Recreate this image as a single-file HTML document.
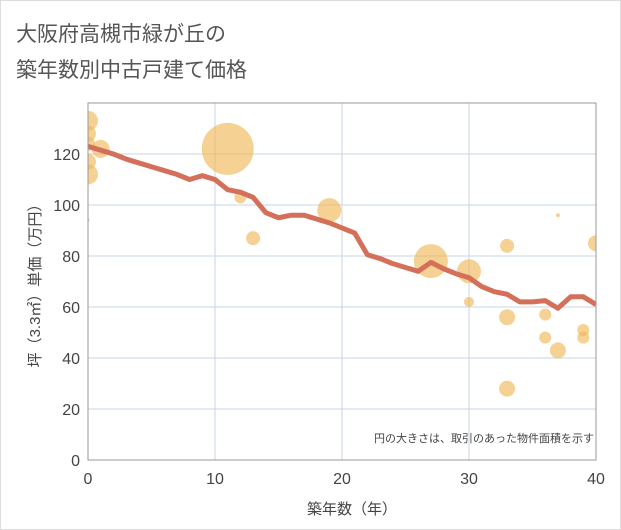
<!DOCTYPE html>
<html><head><meta charset="utf-8"><style>
body{margin:0;background:#fff;}
#wrap{position:relative;width:621px;height:530px;overflow:hidden;background:#fff;}
svg text{font-family:"Liberation Sans","Noto Sans CJK JP",sans-serif;}
</style></head><body>
<div id="wrap">
<svg id="c" width="621" height="530" xmlns="http://www.w3.org/2000/svg">
<defs><clipPath id="pc"><rect x="88" y="103" width="508" height="357"/></clipPath></defs>
<rect x="0.5" y="0.5" width="620" height="529" fill="#fff" stroke="#ddd"/>
<text x="16" y="41" font-size="21" fill="#555">大阪府高槻市緑が丘の</text>
<text x="16" y="77" font-size="21" fill="#555">築年数別中古戸建て価格</text>
<g id="grid"></g>
<g id="bubbles" clip-path="url(#pc)"></g>
<path id="line" fill="none" stroke="#d4705a" stroke-width="5" stroke-linejoin="round" clip-path="url(#pc)"/>
<g id="axes"></g>
<text x="594" y="442" font-size="11" fill="#444" text-anchor="end">円の大きさは、取引のあった物件面積を示す</text>
<text x="352" y="514" font-size="15" fill="#444" text-anchor="middle">築年数（年）</text>
<text transform="translate(40,282) rotate(-90)" font-size="15" fill="#444" text-anchor="middle">坪（3.3㎡）単価（万円）</text>
</svg></div>
<script>
const lineYears=[0,1,2,3,4,5,6,7,8,9,10,11,12,13,14,15,16,17,18,19,20,21,22,23,24,25,26,27,28,29,30,31,32,33,34,35,36,37,38,39,40];
const lineValues=[123,121.5,120,118,116.5,115,113.5,112,110,111.5,110,106,105,103,97,95,96,96,94.5,93,91,89,80.5,79,77,75.5,74,77.5,75,73,71.5,68,66,65,62,62,62.5,59.5,64,64,61];
const bubbleYears=[0,0,0,0,0,1,0,11,12,13,19,27,30,30,33,33,33,36,36,37,37,39,39,40];
const bubbleValues=[133,128,124,117,112,122,94,122,103,87,98,78,74,62,84,56,28,57,48,96,43,51,48,85];
const bubbleSizes=[10,8,7,8,10,9,1.5,26,6,7,12,17,12,5,7,8,8,6,6,2,8,6,6,8];
const xTicks=[0,10,20,30,40];
const yTicks=[0,20,40,60,80,100,120];
const L=88,R=596,T=103,B=460;
const xs=v=>L+(v/40)*(R-L);
const ys=v=>B-v*2.55;
const NS="http://www.w3.org/2000/svg";
function mk(tag,parent,attrs){const e=document.createElementNS(NS,tag);for(const k in attrs)e.setAttribute(k,attrs[k]);parent.appendChild(e);return e;}
const grid=document.getElementById('grid'),axes=document.getElementById('axes'),bub=document.getElementById('bubbles');
xTicks.forEach(t=>{
 const g=mk('line',grid,{x1:xs(t),x2:xs(t),y1:T,y2:B,stroke:'#c9d6e3','stroke-width':1});
 
 
 const tx=mk('text',axes,{x:xs(t),y:B+24,'font-size':16,fill:'#444','text-anchor':'middle'});
 tx.textContent=t;
 
 
});
yTicks.forEach(t=>{
 const g=mk('line',grid,{x1:L,x2:R,y1:ys(t),y2:ys(t),stroke:'#c9d6e3','stroke-width':1});
 
 
 const tx=mk('text',axes,{x:L-8,y:ys(t)+6,'font-size':16,fill:'#444','text-anchor':'end'});
 tx.textContent=t;
 
 
});
const bx=mk('rect',axes,{x:L,y:T,width:R-L,height:B-T,fill:'none',stroke:'#999','stroke-width':1});


bubbleYears.forEach((y,i)=>{
 const c=mk('circle',bub,{cx:xs(y),cy:ys(bubbleValues[i]),r:bubbleSizes[i],fill:'#f0b95a','fill-opacity':0.65});
 
 
});
document.getElementById('line').setAttribute('d',lineYears.map((y,i)=>(i?'L':'M')+xs(y)+','+ys(lineValues[i])).join(''));
</script>
</body></html>
